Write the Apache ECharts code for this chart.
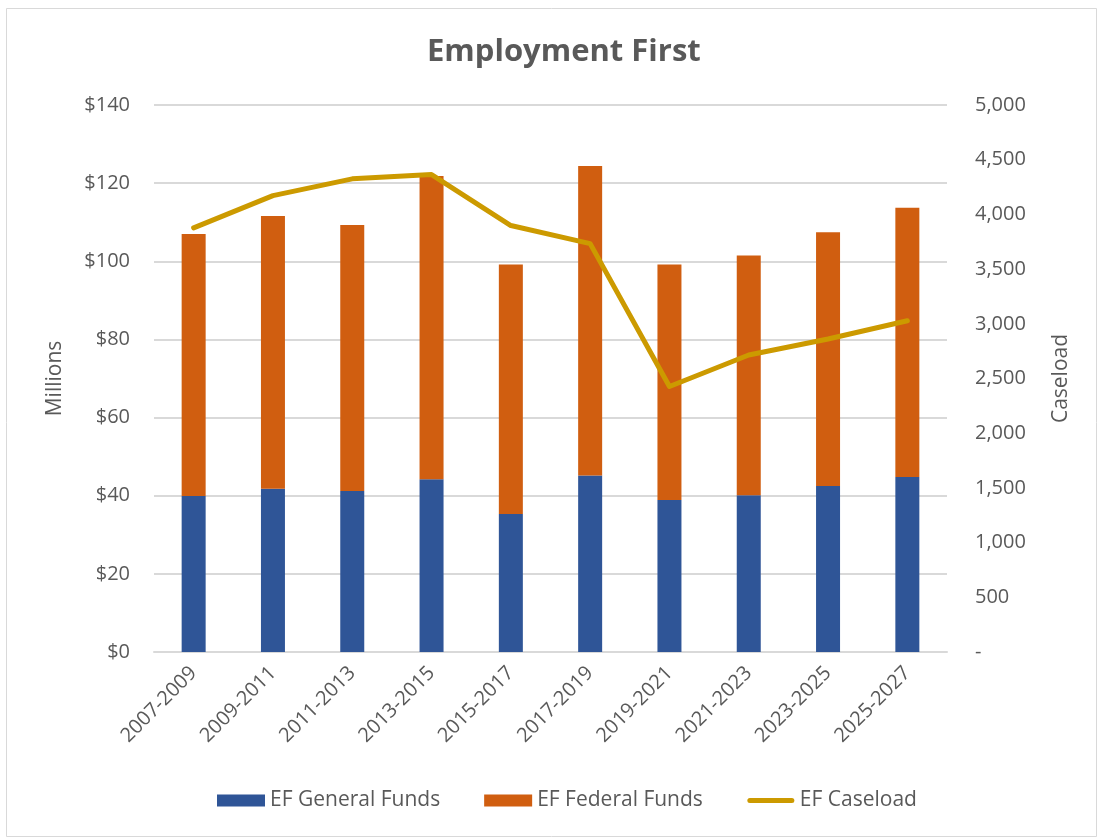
<!DOCTYPE html>
<html>
<head>
<meta charset="utf-8">
<script src="https://cdn.jsdelivr.net/npm/echarts@6/dist/echarts.min.js"></script>
<style>
html,body{margin:0;padding:0;background:#fff;}
#chart{width:1099px;height:838px;}
</style>
</head>
<body>
<div id="chart"></div>
<script>
const categories = ['2007-2009','2009-2011','2011-2013','2013-2015','2015-2017','2017-2019','2019-2021','2021-2023','2023-2025','2025-2027'];
const generalFunds = [39.9, 41.8, 41.2, 44.2, 35.3, 45.2, 38.9, 40.1, 42.5, 44.8];
const federalFunds = [67.1, 69.8, 68.1, 77.6, 63.9, 79.2, 60.3, 61.4, 64.9, 68.9];
const caseload = [3877, 4172, 4325, 4364, 3898, 3733, 2427, 2715, 2861, 3028];
const leftTicks = { min: 0, max: 140, interval: 20 };
const rightTicks = { min: 0, max: 5000, interval: 500 };

const FONT = '"Open Sans", "Noto Sans", sans-serif';
const TXT = '#595959';
const chart = echarts.init(document.getElementById('chart'), null, { renderer: 'canvas' });
chart.setOption({
  backgroundColor: '#fff',
  animation: false,
  textStyle: { fontFamily: FONT },
  graphic: [{
    type: 'rect', left: 4, top: 6,
    shape: { width: 1090, height: 828 },
    style: { fill: 'none', stroke: '#d9d9d9', lineWidth: 1 }
  }],
  title: {
    text: 'Employment First',
    left: 422, top: 32,
    textStyle: { fontFamily: FONT, fontSize: 31, fontWeight: 'bold', color: TXT }
  },
  grid: { left: 154, right: 152, top: 105, bottom: 186, containLabel: false },
  legend: {
    bottom: 22, left: 212,
    itemWidth: 48, itemHeight: 12, itemGap: 44,
    textStyle: { fontFamily: FONT, fontSize: 21, color: TXT },
    data: [
      { name: 'EF General Funds', icon: 'rect' },
      { name: 'EF Federal Funds', icon: 'rect' },
      { name: 'EF Caseload', icon: 'path://M0,0M48,12M3,3.5L45,3.5A2.5,2.5,0,0,1,45,8.5L3,8.5A2.5,2.5,0,0,1,3,3.5Z' }
    ]
  },
  xAxis: {
    type: 'category',
    data: categories,
    axisLine: { show: true, lineStyle: { color: '#d9d9d9', width: 2 } },
    axisTick: { show: false },
    axisLabel: { rotate: 45, fontSize: 20, color: TXT, margin: 18, fontFamily: FONT }
  },
  yAxis: [{
    type: 'value',
    min: leftTicks.min, max: leftTicks.max, interval: leftTicks.interval,
    name: 'Millions', nameLocation: 'middle', nameRotate: 90, nameGap: 88,
    nameTextStyle: { fontSize: 21, color: TXT, fontFamily: FONT },
    axisLabel: { formatter: v => '$' + v, fontSize: 20, color: TXT, margin: 24, fontFamily: FONT },
    axisLine: { show: false }, axisTick: { show: false },
    splitLine: { lineStyle: { color: '#d9d9d9', width: 2 } }
  }, {
    type: 'value',
    min: rightTicks.min, max: rightTicks.max, interval: rightTicks.interval,
    name: 'Caseload', nameLocation: 'middle', nameRotate: 90, nameGap: 104,
    nameTextStyle: { fontSize: 21, color: TXT, fontFamily: FONT },
    axisLabel: { formatter: v => v === 0 ? '-' : v.toLocaleString('en-US'), fontSize: 20, color: TXT, margin: 28, fontFamily: FONT },
    axisLine: { show: false }, axisTick: { show: false },
    splitLine: { show: false }
  }],
  series: [{
    name: 'EF General Funds', type: 'bar', stack: 'funds', data: generalFunds,
    barWidth: 24, itemStyle: { color: '#2F5597' }
  }, {
    name: 'EF Federal Funds', type: 'bar', stack: 'funds', data: federalFunds,
    barWidth: 24, itemStyle: { color: '#D05E10' }
  }, {
    name: 'EF Caseload', type: 'line', yAxisIndex: 1, data: caseload,
    symbol: 'none', lineStyle: { color: '#CC9A00', width: 5, cap: 'round', join: 'round' },
    itemStyle: { color: '#CC9A00' }, z: 5
  }]
});
</script>
</body>
</html>
